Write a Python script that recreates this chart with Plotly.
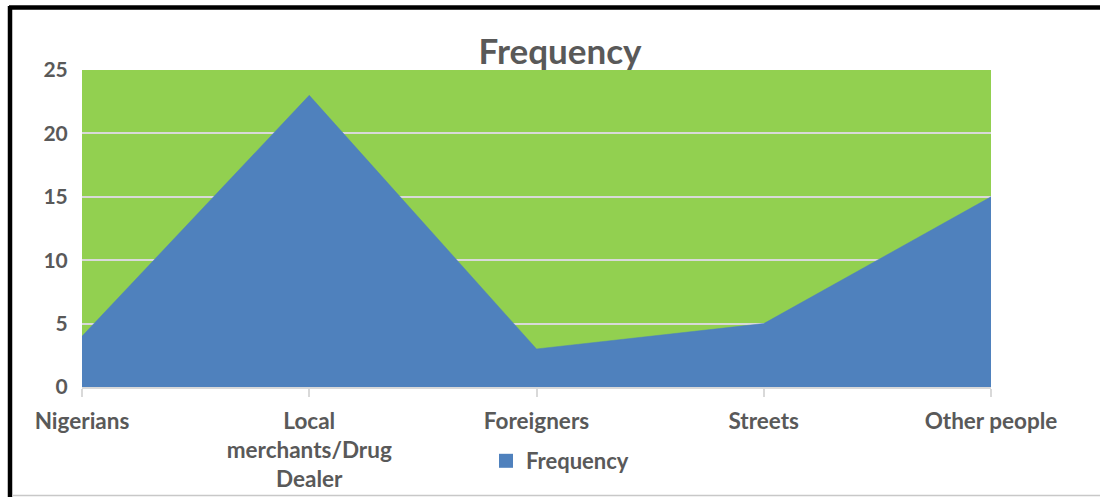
import plotly.graph_objects as go

categories = ["Nigerians", "Local<br>merchants/Drug<br>Dealer", "Foreigners", "Streets", "Other people"]
frequency = [4, 23, 3, 5, 15]
y_ticks = [0, 5, 10, 15, 20, 25]

W, H = 1100, 497
L, R, T, B = 82, 109, 70, 110
pw, ph = W - L - R, H - T - B

def px(x):
    return (x - L) / pw

def py(y):
    return (H - B - y) / ph

FONT = "Lato"
GREY = "#595959"
BLUE = "#4F81BD"

fig = go.Figure()
fig.add_trace(go.Scatter(
    x=list(range(len(categories))), y=frequency, name="Frequency",
    mode="lines", fill="tozeroy", fillcolor=BLUE,
    line=dict(color=BLUE, width=0.5), showlegend=False,
))
# legend entry (square swatch)
fig.add_trace(go.Scatter(
    x=[None], y=[None], name="<b>Frequency</b>", mode="markers",
    marker=dict(symbol="square", size=14, color=BLUE), showlegend=True,
))

fig.update_layout(
    width=W, height=H,
    margin=dict(l=L, r=R, t=T, b=B, autoexpand=False),
    paper_bgcolor="white", plot_bgcolor="#92D050",
    title=dict(text="<b>Frequency</b>", x=(560) / W, xanchor="center",
               y=1 - 52 / H, yanchor="middle",
               font=dict(family=FONT, size=35, color=GREY)),
    showlegend=True,
    legend=dict(orientation="h", x=px(486), xanchor="left", y=py(461), yanchor="middle",
                font=dict(family=FONT, size=22, color=GREY), bgcolor="rgba(0,0,0,0)"),
    font=dict(family=FONT, color=GREY),
)
fig.update_xaxes(
    range=[0, len(categories) - 1], tickvals=list(range(len(categories))), ticktext=[f"<b>{c}</b>" for c in categories],
    showgrid=False, zeroline=False, showline=True, linecolor="#D9D9D9", linewidth=1.5,
    ticks="outside", ticklen=8, tickcolor="#D9D9D9", tickwidth=1.5, ticklabelstandoff=5,
    tickfont=dict(family=FONT, size=22.5, color=GREY), automargin=False,
)
fig.update_yaxes(
    range=[0, 25], tickvals=y_ticks, ticktext=[f"<b>{v}</b>" for v in y_ticks],
    showgrid=True, gridcolor="#D9D9D9", gridwidth=2, zeroline=False, showline=False,
    ticks="outside", ticklen=9, tickcolor="rgba(0,0,0,0)",
    tickfont=dict(family=FONT, size=21, color=GREY), automargin=False,
)

# frame
fig.add_shape(type="line", xref="paper", yref="paper", x0=px(9), x1=px(W), y0=py(7.5), y1=py(7.5),
              line=dict(color="black", width=4.5))
fig.add_shape(type="line", xref="paper", yref="paper", x0=px(10), x1=px(10), y0=py(6), y1=py(H),
              line=dict(color="black", width=4.5))
fig.add_shape(type="line", xref="paper", yref="paper", x0=px(12), x1=px(W), y0=py(495.5), y1=py(495.5),
              line=dict(color="#C8C8C8", width=1.5))

fig.write_html("out.html", config={"displayModeBar": False},
               post_script="document.body.style.margin='0';document.body.style.overflow='hidden';")
